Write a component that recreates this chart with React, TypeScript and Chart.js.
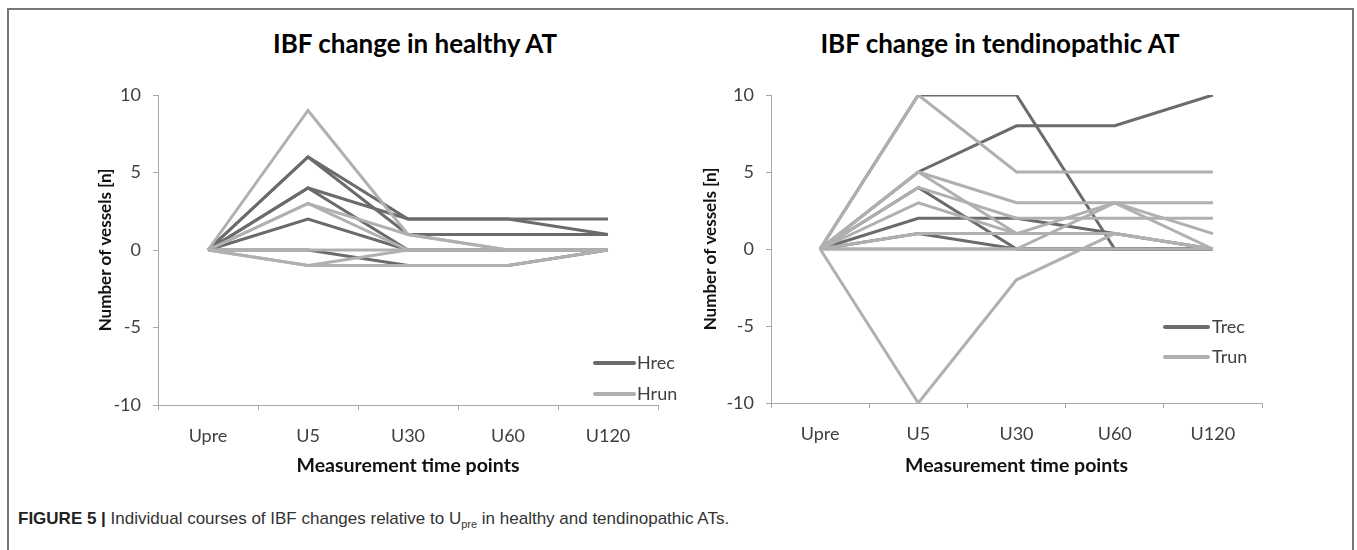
import React, { useEffect, useRef } from "react";
import { Chart, registerables } from "chart.js";

Chart.register(...registerables);

// ---------- data ----------
const timePoints = ["Upre", "U5", "U30", "U60", "U120"];
const yTickValues = [-10, -5, 0, 5, 10];

// healthy AT – recreational (dark) and runners (light)
const hrecA = [0, 6, 2, 2, 2];
const hrecB = [0, 6, 1, 1, 1];
const hrecC = [0, 4, 2, 2, 1];
const hrecD = [0, 4, 0, 0, 0];
const hrecE = [0, 2, 0, 0, 0];
const hrecF = [0, 0, -1, -1, 0];

const hrunA = [0, 9, 1, 0, 0];
const hrunB = [0, 3, 1, 0, 0];
const hrunC = [0, 3, 0, 0, 0];
const hrunD = [0, -1, 0, 0, 0];
const hrunE = [0, -1, -1, -1, 0];
const hrunF = [0, 0, 0, 0, 0];

// tendinopathic AT – recreational (dark) and runners (light)
const trecA = [0, 10, 10, 0, 0];
const trecB = [0, 5, 8, 8, 10];
const trecC = [0, 2, 2, 1, 0];
const trecD = [0, 4, 0, 0, 0];
const trecE = [0, 1, 0, 0, 0];

const trunA = [0, 10, 5, 5, 5];
const trunB = [0, -10, -2, 1, 0];
const trunC = [0, 5, 3, 3, 3];
const trunD = [0, 4, 2, 2, 2];
const trunE = [0, 3, 1, 3, 0];
const trunF = [0, 1, 1, 1, 0];
const trunG = [0, 0, 0, 3, 1];
const trunH = [0, 5, 1, 1, 0];
const trunI = [0, 0, 0, 0, 0];

const healthyRec = [hrecA, hrecB, hrecC, hrecD, hrecE, hrecF];
const healthyRun = [hrunA, hrunB, hrunC, hrunD, hrunE, hrunF];
const tendRec = [trecA, trecB, trecC, trecD, trecE];
const tendRun = [trunA, trunB, trunC, trunD, trunE, trunF, trunG, trunH, trunI];

// ---------- styles ----------
const DARK = "#6b6b6b";
const LIGHT = "#b0b0b0";
const AXIS = "#a8a8a8";
const TEXT = "#404040";
const FONT = "Lato, 'Open Sans', sans-serif";

Chart.defaults.font.family = FONT;

type PanelProps = {
  left: number;
  top: number;
  width: number;
  height: number;
  recSeries: number[][];
  runSeries: number[][];
  recName: string;
  runName: string;
  yScaleWidth: number;
  xScaleHeight: number;
  padRight: number;
  padTop: number;
  yTitlePad: number;
  xTitlePad: number;
  legend: { x1: number; x2: number; tx: number; y1: number; y2: number };
};

function ChartPanel(p: PanelProps) {
  const ref = useRef<HTMLCanvasElement | null>(null);

  useEffect(() => {
    if (!ref.current) return;
    const datasets: any[] = [];
    p.runSeries.forEach((s, i) =>
      datasets.push({
        label: p.runName + " " + (i + 1),
        data: s,
        borderColor: LIGHT,
        backgroundColor: LIGHT,
        borderWidth: 3,
        pointRadius: 0,
        fill: false,
        tension: 0,
      })
    );
    p.recSeries.forEach((s, i) =>
      datasets.push({
        label: p.recName + " " + (i + 1),
        data: s,
        borderColor: DARK,
        backgroundColor: DARK,
        borderWidth: 3,
        pointRadius: 0,
        fill: false,
        tension: 0,
      })
    );

    const legendPlugin = {
      id: "groupLegend",
      afterDatasetsDraw(chart: any) {
        const { ctx, chartArea } = chart;
        const L = p.legend;
        const rows = [
          { name: p.recName, color: DARK, y: chartArea.top + L.y1 },
          { name: p.runName, color: LIGHT, y: chartArea.top + L.y2 },
        ];
        ctx.save();
        rows.forEach((r) => {
          ctx.strokeStyle = r.color;
          ctx.lineWidth = 4;
          ctx.lineCap = "round";
          ctx.beginPath();
          ctx.moveTo(chartArea.right + L.x1, r.y);
          ctx.lineTo(chartArea.right + L.x2, r.y);
          ctx.stroke();
          ctx.fillStyle = TEXT;
          ctx.font = `18px ${FONT}`;
          ctx.textBaseline = "middle";
          ctx.textAlign = "left";
          ctx.fillText(r.name, chartArea.right + L.tx, r.y);
        });
        ctx.restore();
      },
    };

    const chart = new Chart(ref.current, {
      type: "line",
      data: { labels: timePoints, datasets },
      options: {
        animation: false,
        responsive: false,
        devicePixelRatio: 1,
        layout: { padding: { left: 0, right: p.padRight, top: p.padTop, bottom: 0 } },
        plugins: { legend: { display: false }, tooltip: { enabled: false }, title: { display: false } },
        scales: {
          x: {
            type: "category",
            offset: true,
            grid: { offset: true, drawOnChartArea: false, drawTicks: true, tickLength: 5, color: AXIS },
            border: { display: true, color: AXIS, width: 1 },
            ticks: { color: TEXT, font: { size: 18, family: FONT }, padding: 15, maxRotation: 0 },
            title: {
              display: true,
              text: "Measurement time points",
              color: "#111",
              font: { size: 19.5, weight: "bold", family: FONT },
              padding: { top: 0, bottom: p.xTitlePad },
            },
            afterFit: (s: any) => {
              s.height = p.xScaleHeight;
            },
          },
          y: {
            min: -10,
            max: 10,
            grid: { drawOnChartArea: false, drawTicks: true, tickLength: 5, color: AXIS },
            border: { display: true, color: AXIS, width: 1 },
            ticks: { color: TEXT, font: { size: 18, family: FONT }, padding: 12, stepSize: 5 },
            afterBuildTicks: (s: any) => {
              s.ticks = yTickValues.map((v) => ({ value: v }));
            },
            title: {
              display: true,
              text: "Number of vessels [n]",
              color: "#111",
              font: { size: 17, weight: "bold", family: FONT },
              padding: { top: p.yTitlePad, bottom: 0 },
            },
            afterFit: (s: any) => {
              s.width = p.yScaleWidth;
            },
          },
        },
      } as any,
      plugins: [legendPlugin],
    });
    return () => chart.destroy();
  }, []);

  return (
    <div style={{ position: "absolute", left: p.left, top: p.top, width: p.width, height: p.height }}>
      <canvas ref={ref} width={p.width} height={p.height} style={{ width: p.width, height: p.height, display: "block" }} />
    </div>
  );
}

export default function App() {
  return (
    <div style={{ position: "absolute", left: 0, top: 0, width: 1357, height: 550, background: "#fff", overflow: "hidden" }}>
      <div
        style={{
          position: "absolute",
          left: 7,
          top: 8,
          width: 1343,
          height: 560,
          border: "2px solid #777",
          borderBottom: "none",
        }}
      />
      <div
        style={{
          position: "absolute",
          left: 215,
          top: 27,
          width: 400,
          textAlign: "center",
          font: `bold 26px ${FONT}`,
          color: "#000",
        }}
      >
        IBF change in healthy AT
      </div>
      <div
        style={{
          position: "absolute",
          left: 800,
          top: 27,
          width: 400,
          textAlign: "center",
          font: `bold 26px ${FONT}`,
          color: "#000",
        }}
      >
        IBF change in tendinopathic AT
      </div>
      <ChartPanel
        left={60}
        top={60}
        width={620}
        height={430}
        recSeries={healthyRec}
        runSeries={healthyRun}
        recName="Hrec"
        runName="Hrun"
        yScaleWidth={98}
        xScaleHeight={85}
        padRight={22}
        padTop={35}
        yTitlePad={35}
        xTitlePad={13}
        legend={{ x1: -63, x2: -24, tx: -21, y1: 268, y2: 299 }}
      />
      <ChartPanel
        left={680}
        top={60}
        width={620}
        height={430}
        recSeries={tendRec}
        runSeries={tendRun}
        recName="Trec"
        runName="Trun"
        yScaleWidth={91}
        xScaleHeight={87}
        padRight={38}
        padTop={35}
        yTitlePad={20}
        xTitlePad={13}
        legend={{ x1: -97, x2: -54, tx: -50, y1: 232, y2: 262 }}
      />
      <div
        style={{
          position: "absolute",
          left: 18,
          top: 509,
          font: "17px 'Liberation Sans', Arial, sans-serif",
          color: "#333",
          lineHeight: "20px",
          whiteSpace: "nowrap",
        }}
      >
        <b style={{ color: "#222" }}>FIGURE 5 |</b> Individual courses of IBF changes relative to U
        <span style={{ fontSize: 11, position: "relative", top: 4 }}>pre</span> in healthy and tendinopathic ATs.
      </div>
    </div>
  );
}
